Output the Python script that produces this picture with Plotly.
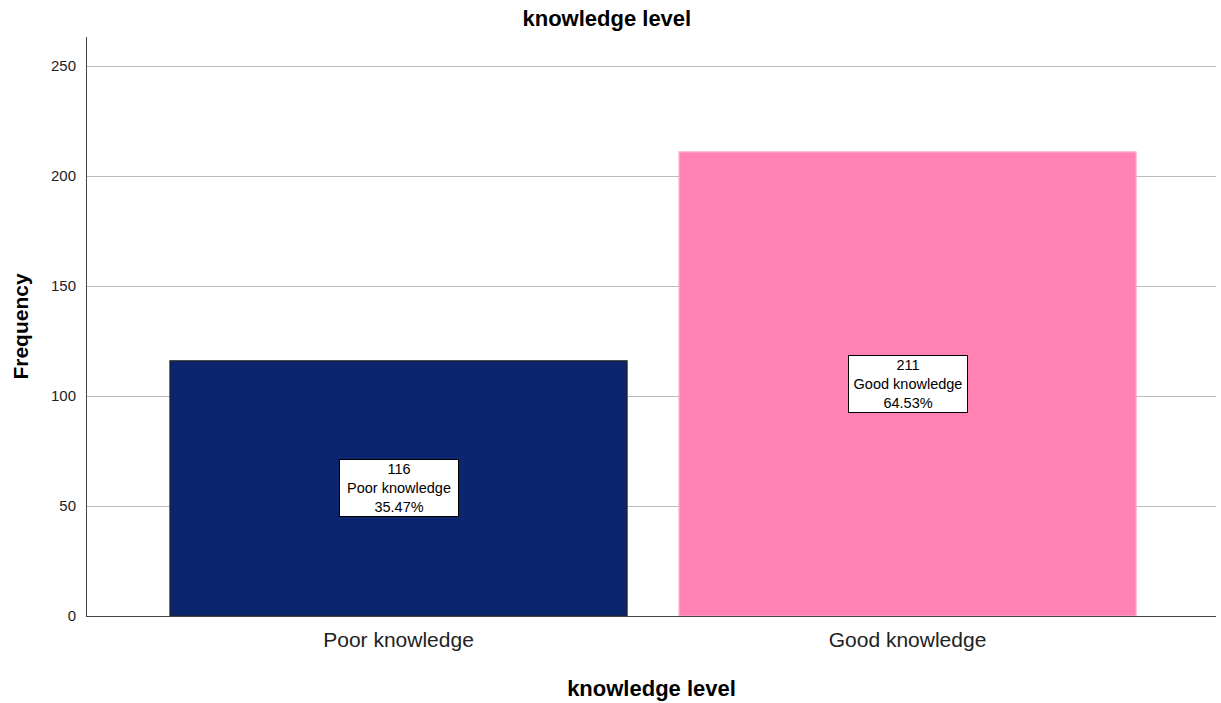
import plotly.graph_objects as go

categories = ["Poor knowledge", "Good knowledge"]
counts = [116, 211]
percents = ["35.47%", "64.53%"]
fill_colors = ["#0b266e", "#ff82b2"]
line_colors = ["#222222", "#ffb0cc"]

fig = go.Figure()
fig.add_trace(go.Bar(
    x=categories, y=counts, width=0.898,
    marker=dict(color=fill_colors, line=dict(color=line_colors, width=1.2)),
    hoverinfo="skip",
))

for c, v, p in zip(categories, counts, percents):
    fig.add_annotation(
        x=c, y=v / 2, text=f"{v}<br>{c}<br>{p}", showarrow=False,
        font=dict(family="Liberation Sans, Arial", size=14.5, color="black"),
        bgcolor="white", bordercolor="black", borderwidth=1, borderpad=1,
        width=116, height=54, align="center", valign="middle",
    )

fig.update_layout(
    width=1221, height=703,
    margin=dict(l=87, r=5, t=37, b=87),
    paper_bgcolor="white", plot_bgcolor="white",
    showlegend=False,
    title=dict(text="<b>knowledge level</b>", x=0.497, xanchor="center", y=0.974, yanchor="middle",
               font=dict(family="Liberation Sans, Arial", size=22, color="black")),
    font=dict(family="Liberation Sans, Arial", color="black"),
)
fig.update_xaxes(
    range=[-0.612, 1.606], showline=True, linecolor="#444444", linewidth=1,
    ticks="outside", ticklen=5, tickcolor="rgba(0,0,0,0)",
    tickfont=dict(size=21, color="#222222"),
    title=dict(text="<b>knowledge level</b>", font=dict(size=22, color="black"), standoff=30),
    showgrid=False, zeroline=False,
)
fig.update_yaxes(
    range=[0, 263.2], tickvals=[0, 50, 100, 150, 200, 250],
    showline=True, linecolor="#444444", linewidth=1,
    showgrid=True, gridcolor="#bbbbbb", gridwidth=1,
    ticks="outside", ticklen=7, tickcolor="rgba(0,0,0,0)",
    tickfont=dict(size=15, color="#222222"),
    title=dict(text="<b>Frequency</b>", font=dict(size=21, color="black"), standoff=16),
    zeroline=False,
)

fig.write_html("out.html")
